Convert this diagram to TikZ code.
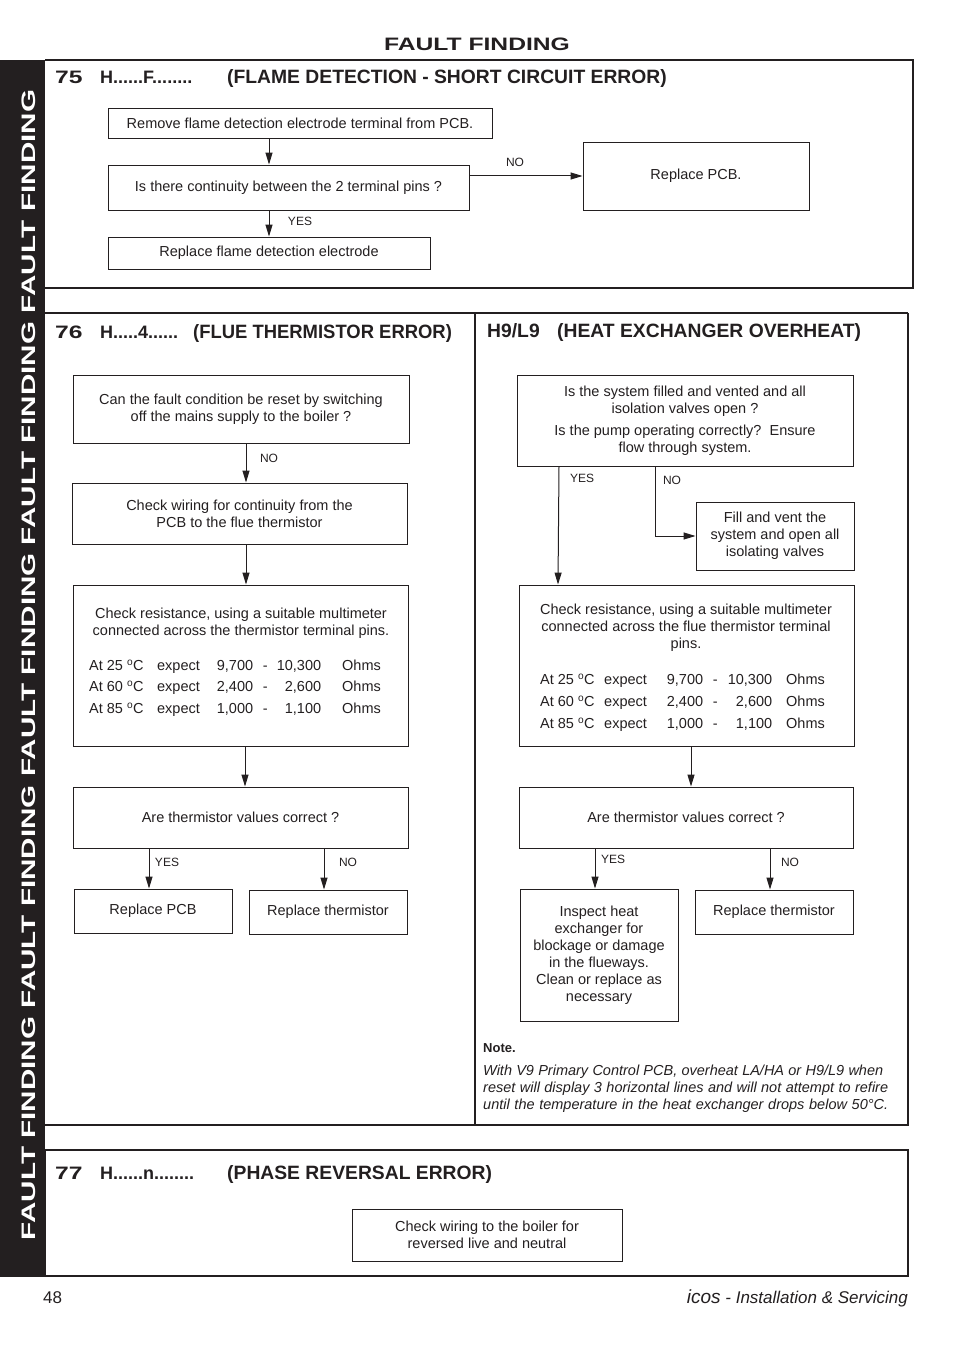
\documentclass[tikz,border=0pt]{standalone}
\usepackage{fontspec}
\setmainfont{Liberation Sans}
\newfontfamily\widefont{Liberation Sans}[FakeStretch=1.37]
\usepackage{tikz}
\usetikzlibrary{positioning, arrows.meta}
\definecolor{ink}{HTML}{231F20}

% column widths and one line of the resistance table
\newcommand\ohmcols[5]{\def\colA{#1}\def\colB{#2}\def\colC{#3}\def\colD{#4}\def\colE{#5}}
\newcommand\ohmrow[3]{\makebox[\colA][l]{At #1 \textsuperscript{o}C}\makebox[\colB][l]{expect}\makebox[\colC][r]{#2}\makebox[24pt][c]{-}\makebox[\colD][r]{#3}\hspace{\colE}Ohms}

\begin{document}
\begin{tikzpicture}[
    x=1pt, y=-1pt,
    >={Triangle[length=12pt, width=7pt]},
    box/.style={draw=ink, line width=0.9pt, align=center, inner sep=2pt, text=ink, font=\fontsize{14.5}{17}\selectfont},
    txt/.style={align=center, inner sep=0pt, text=ink, font=\fontsize{14.5}{17}\selectfont},
    yn/.style={text=ink, inner sep=0pt, font=\fontsize{12}{14}\selectfont},
    flow/.style={->, draw=ink, line width=1pt},
    frame/.style={draw=ink, line width=1.3pt},
    heavy/.style={draw=ink, line width=2.4pt},
    ttl/.style={anchor=base west, inner sep=0pt, text=ink, font=\fontsize{19.3}{21}\selectfont\bfseries},
    ttlcode/.style={ttl, font=\fontsize{18}{20}\selectfont\bfseries},
    ttlnum/.style={ttl, font=\fontsize{18}{20}\selectfont\widefont\bfseries},
]
\useasboundingbox (0,0) rectangle (954,1351);

% --- page furniture ---
\fill[ink] (0,60) rectangle (45,1277);
\node[rotate=90, text=white, inner sep=0pt, font=\fontsize{19.5}{20}\selectfont\widefont\bfseries] (side) at (29,665)
    {\scalebox{1.11}[1]{FAULT FINDING FAULT FINDING FAULT FINDING FAULT FINDING FAULT FINDING}};
\node[anchor=base, inner sep=0pt, text=ink, font=\fontsize{18}{20}\selectfont\widefont\bfseries] (head) at (477,51) {FAULT FINDING};

\draw[frame] (45,60) -- (913,60) -- (913,288);
\draw[heavy] (45,288) -- (914,288);
\draw[heavy] (45,313) -- (908,313);
\draw[frame] (908,313) -- (908,1125) -- (45,1125);
\draw[frame] (475,313) -- (475,1125);
\draw[frame] (45,1150) rectangle (908,1276);

% --- 75 ---
\node[ttlnum] (t75a) at (55,84) {75};
\node[ttlcode] (t75b) at (100,84) {H......F........};
\node[ttl] (t75c) at (227,84) {(FLAME DETECTION - SHORT CIRCUIT ERROR)};

\node[box, minimum width=384, minimum height=30] (r1) at (300,123) {Remove flame detection electrode terminal from PCB.};
\node[box, minimum width=361, minimum height=45] (q1) at (288.5,187.5) {Is there continuity between the 2 terminal pins ?};
\node[box, minimum width=226, minimum height=68] (pcb1) at (696,176) {Replace PCB.};
\node[box, minimum width=322, minimum height=32] (el1) at (269,253) {Replace flame detection electrode};

\draw[flow] (r1.south -| el1.north) -- (q1.north -| el1.north);
\draw[flow] (q1.south -| el1.north) -- (el1.north);
\draw[flow] (pcb1.west -| q1.east) -- (pcb1.west);
\node[yn] (n75no) at (515,162) {NO};
\node[yn] (n75yes) at (300,221) {YES};

% --- 76 ---
\node[ttlnum] (t76a) at (55,338) {76};
\node[ttlcode] (t76b) at (100,338) {H.....4......};
\node[ttl] (t76c) at (193,338) {\scalebox{0.955}[1]{(FLUE THERMISTOR ERROR)}};

\node[box, minimum width=336, minimum height=68] (b1) at (241,409)
    {Can the fault condition be reset by switching\\off the mains supply to the boiler ?};
\node[box, minimum width=335, minimum height=61] (b2) at (239.5,513.5)
    {Check wiring for continuity from the\\PCB to the flue thermistor};
\node[box, minimum width=335, minimum height=161] (b3) at (240.5,665.5) {};
\node[txt] (b3top) at (241,623) {Check resistance, using a suitable multimeter\\connected across the thermistor terminal pins.};
\ohmcols{68pt}{59pt}{37pt}{44pt}{21pt}
\node[txt, anchor=west, align=left, font=\fontsize{14.5}{21.5}\selectfont] (b3tab) at (89,688)
    {\ohmrow{25}{9,700}{10,300}\\\ohmrow{60}{2,400}{2,600}\\\ohmrow{85}{1,000}{1,100}};
\node[box, minimum width=335, minimum height=61] (b4) at (240.5,817.5) {Are thermistor values correct ?};
\node[box, minimum width=158, minimum height=44] (b5) at (153,911) {Replace PCB};
\node[box, minimum width=158, minimum height=44] (b6) at (328,912) {Replace thermistor};

\coordinate (l76) at (246,0);
\coordinate (y76) at (149,0);
\coordinate (n76) at (324,0);
\draw[flow] (b1.south -| l76) -- (b2.north -| l76);
\draw[flow] (b2.south -| l76) -- (b3.north -| l76);
\draw[flow] ([xshift=-1]b3.south -| l76) -- ([xshift=-1]b4.north -| l76);
\draw[flow] (b4.south -| y76) -- (b5.north -| y76);
\draw[flow] (b4.south -| n76) -- (b6.north -| n76);
\node[yn] (n76no) at (269,458) {NO};
\node[yn] (n76yes) at (167,862) {YES};
\node[yn] (n76no2) at (348,862) {NO};

% --- H9/L9 ---
\node[ttl] (t9a) at (487,337) {H9/L9};
\node[ttl] (t9b) at (557,337) {(HEAT EXCHANGER OVERHEAT)};

\node[box, minimum width=336, minimum height=91] (c1) at (685,420.5)
    {Is the system filled and vented and all\\isolation valves open ?\\[5pt]Is the pump operating correctly?\ \ Ensure\\flow through system.};
\node[box, minimum width=158, minimum height=68] (c2) at (775,536)
    {Fill and vent the\\system and open all\\isolating valves};
\node[box, minimum width=335, minimum height=161] (c3) at (686.5,665.5) {};
\node[txt] (c3top) at (686,628) {Check resistance, using a suitable multimeter\\connected across the flue thermistor terminal\\pins.};
\ohmcols{64pt}{63pt}{36pt}{45pt}{14pt}
\node[txt, anchor=west, align=left, font=\fontsize{14.5}{22}\selectfont] (c3tab) at (540,703)
    {\ohmrow{25}{9,700}{10,300}\\\ohmrow{60}{2,400}{2,600}\\\ohmrow{85}{1,000}{1,100}};
\node[box, minimum width=334, minimum height=61] (c4) at (686,817.5) {Are thermistor values correct ?};
\node[box, minimum width=158, minimum height=132] (c5) at (599,955)
    {Inspect heat\\exchanger for\\blockage or damage\\in the flueways.\\Clean or replace as\\necessary};
\node[box, minimum width=158, minimum height=44] (c6) at (774,912) {Replace thermistor};

\coordinate (y9) at (559,0);
\coordinate (n9) at (655,0);
\coordinate (l9) at (691,0);
\coordinate (y9b) at (595,0);
\coordinate (n9b) at (770,0);
\draw[flow] (c1.south -| y9) -- ([xshift=-1]c3.north -| y9);
\draw[flow] (c1.south -| n9) |- (c2.west);
\draw[flow] (c3.south -| l9) -- (c4.north -| l9);
\draw[flow] (c4.south -| y9b) -- (c5.north -| y9b);
\draw[flow] (c4.south -| n9b) -- (c6.north -| n9b);
\node[yn] (n9yes) at (582,478) {YES};
\node[yn] (n9no) at (672,480) {NO};
\node[yn] (n9yes2) at (613,859) {YES};
\node[yn] (n9no2) at (790,862) {NO};

\node[anchor=west, inner sep=0pt, text=ink, font=\fontsize{13}{15}\selectfont\bfseries] (note) at (483,1048) {Note.};
\node[anchor=north west, align=left, inner sep=0pt, text=ink, font=\fontsize{14.5}{17}\selectfont\itshape] (notetxt) at (483,1065)
    {\makebox[400pt][s]{With V9 Primary Control PCB, overheat LA/HA or H9/L9 when}\\
     \makebox[405pt][s]{reset will display 3 horizontal lines and will not attempt to refire}\\
     \makebox[405pt][s]{until the temperature in the heat exchanger drops below 50°C.}};

% --- 77 ---
\node[ttlnum] (t77a) at (55,1179) {77};
\node[ttlcode] (t77b) at (100,1179) {H......n........};
\node[ttl] (t77c) at (227,1179) {(PHASE REVERSAL ERROR)};
\node[box, minimum width=270, minimum height=52] (d1) at (487,1235)
    {Check wiring to the boiler for\\reversed live and neutral};

% --- footer ---
\node[anchor=base west, inner sep=0pt, text=ink, font=\fontsize{17}{20}\selectfont] (page) at (43,1303) {48};
\node[anchor=base east, inner sep=0pt, text=ink, font=\fontsize{17}{20}\selectfont\itshape] (foot) at (908,1303)
    {{\fontsize{19}{20}\selectfont icos} - Installation \& Servicing};

\end{tikzpicture}
\end{document}
